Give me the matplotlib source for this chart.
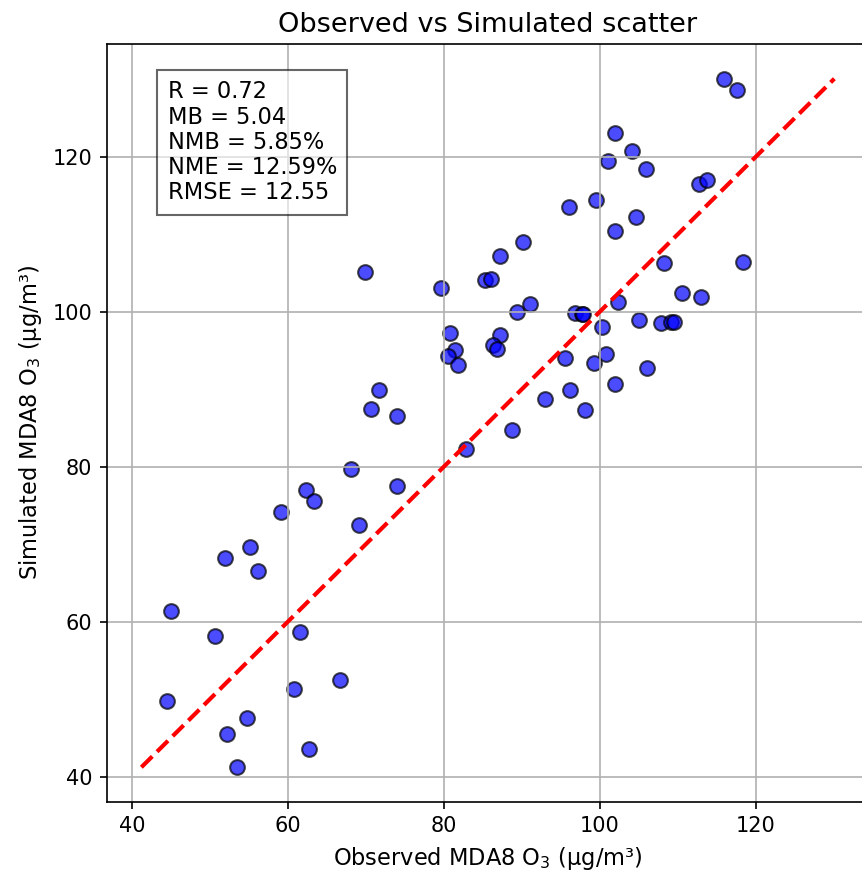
import matplotlib
matplotlib.use("Agg")
import matplotlib.pyplot as plt
import numpy as np

# observed / simulated MDA8 O3 pairs (ug/m3)
obs = [82.9, 68.1, 74.05, 62.3, 63.4, 59.05, 69.1, 55.2, 51.9, 56.1,
       45.0, 50.6, 61.6, 60.8, 66.7, 44.5, 54.8, 52.2, 62.7, 53.5,
       69.9, 79.6, 85.25, 86.1, 87.2, 90.1, 96.1, 99.5, 89.4, 91.1,
       96.8, 97.7, 97.9, 80.85, 81.4, 80.6, 81.8, 87.2, 86.3, 86.8,
       71.7, 70.6, 74.05, 88.7, 93.0, 95.5, 96.2, 98.1, 99.3,
       115.9, 117.6, 102.0, 104.2, 101.1, 105.9, 112.7, 113.8, 104.7, 101.9,
       108.3, 118.4, 110.5, 113.0, 102.3, 100.3, 105.0, 107.9, 109.2, 109.5,
       100.85, 106.05, 102.0]
sim = [82.3, 79.7, 77.5, 77.0, 75.6, 74.1, 72.5, 69.6, 68.2, 66.6,
       61.4, 58.2, 58.7, 51.3, 52.45, 49.7, 47.5, 45.55, 43.5, 41.2,
       105.1, 103.1, 104.05, 104.2, 107.25, 109.05, 113.6, 114.5, 100.0, 101.0,
       99.9, 99.75, 99.75, 97.3, 95.05, 94.25, 93.1, 97.05, 95.7, 95.2,
       89.85, 87.5, 86.5, 84.7, 88.7, 94.0, 89.9, 87.3, 93.4,
       130.1, 128.6, 123.05, 120.8, 119.5, 118.5, 116.55, 117.0, 112.3, 110.5,
       106.3, 106.4, 102.4, 101.9, 101.3, 98.1, 99.0, 98.55, 98.7, 98.7,
       94.6, 92.8, 90.7]

stats_text = "R = 0.72\nMB = 5.04\nNMB = 5.85%\nNME = 12.59%\nRMSE = 12.55"

obs = np.array(obs)
sim = np.array(sim)

fig = plt.figure(figsize=(862/150, 877/150), dpi=150)
# axes runs a bit past the right edge, like the cropped reference
ax = fig.add_axes([0.1238, 0.0859, 0.8843, 0.8636])

ax.scatter(obs, sim, c='blue', edgecolors='black', alpha=0.7, s=50)
lo = min(obs.min(), sim.min())
hi = max(obs.max(), sim.max())
ax.plot([lo, hi], [lo, hi], 'r--', lw=2)

ax.set_xlabel("Observed MDA8 O$_3$ (μg/m³)", fontsize=10.8)
ax.set_ylabel("Simulated MDA8 O$_3$ (μg/m³)", fontsize=10.8)
ax.set_title("Observed vs Simulated scatter", fontsize=13)
ax.tick_params(labelsize=10)
ax.spines['right'].set_visible(False)
ax.grid(True)

ax.text(0.0798, 0.9522, stats_text, transform=ax.transAxes, fontsize=10.8,
        va='top', ha='left', linespacing=1.12,
        bbox=dict(boxstyle='square,pad=0.47', facecolor='white', alpha=0.6))

fig.savefig("out.png", dpi=150)
